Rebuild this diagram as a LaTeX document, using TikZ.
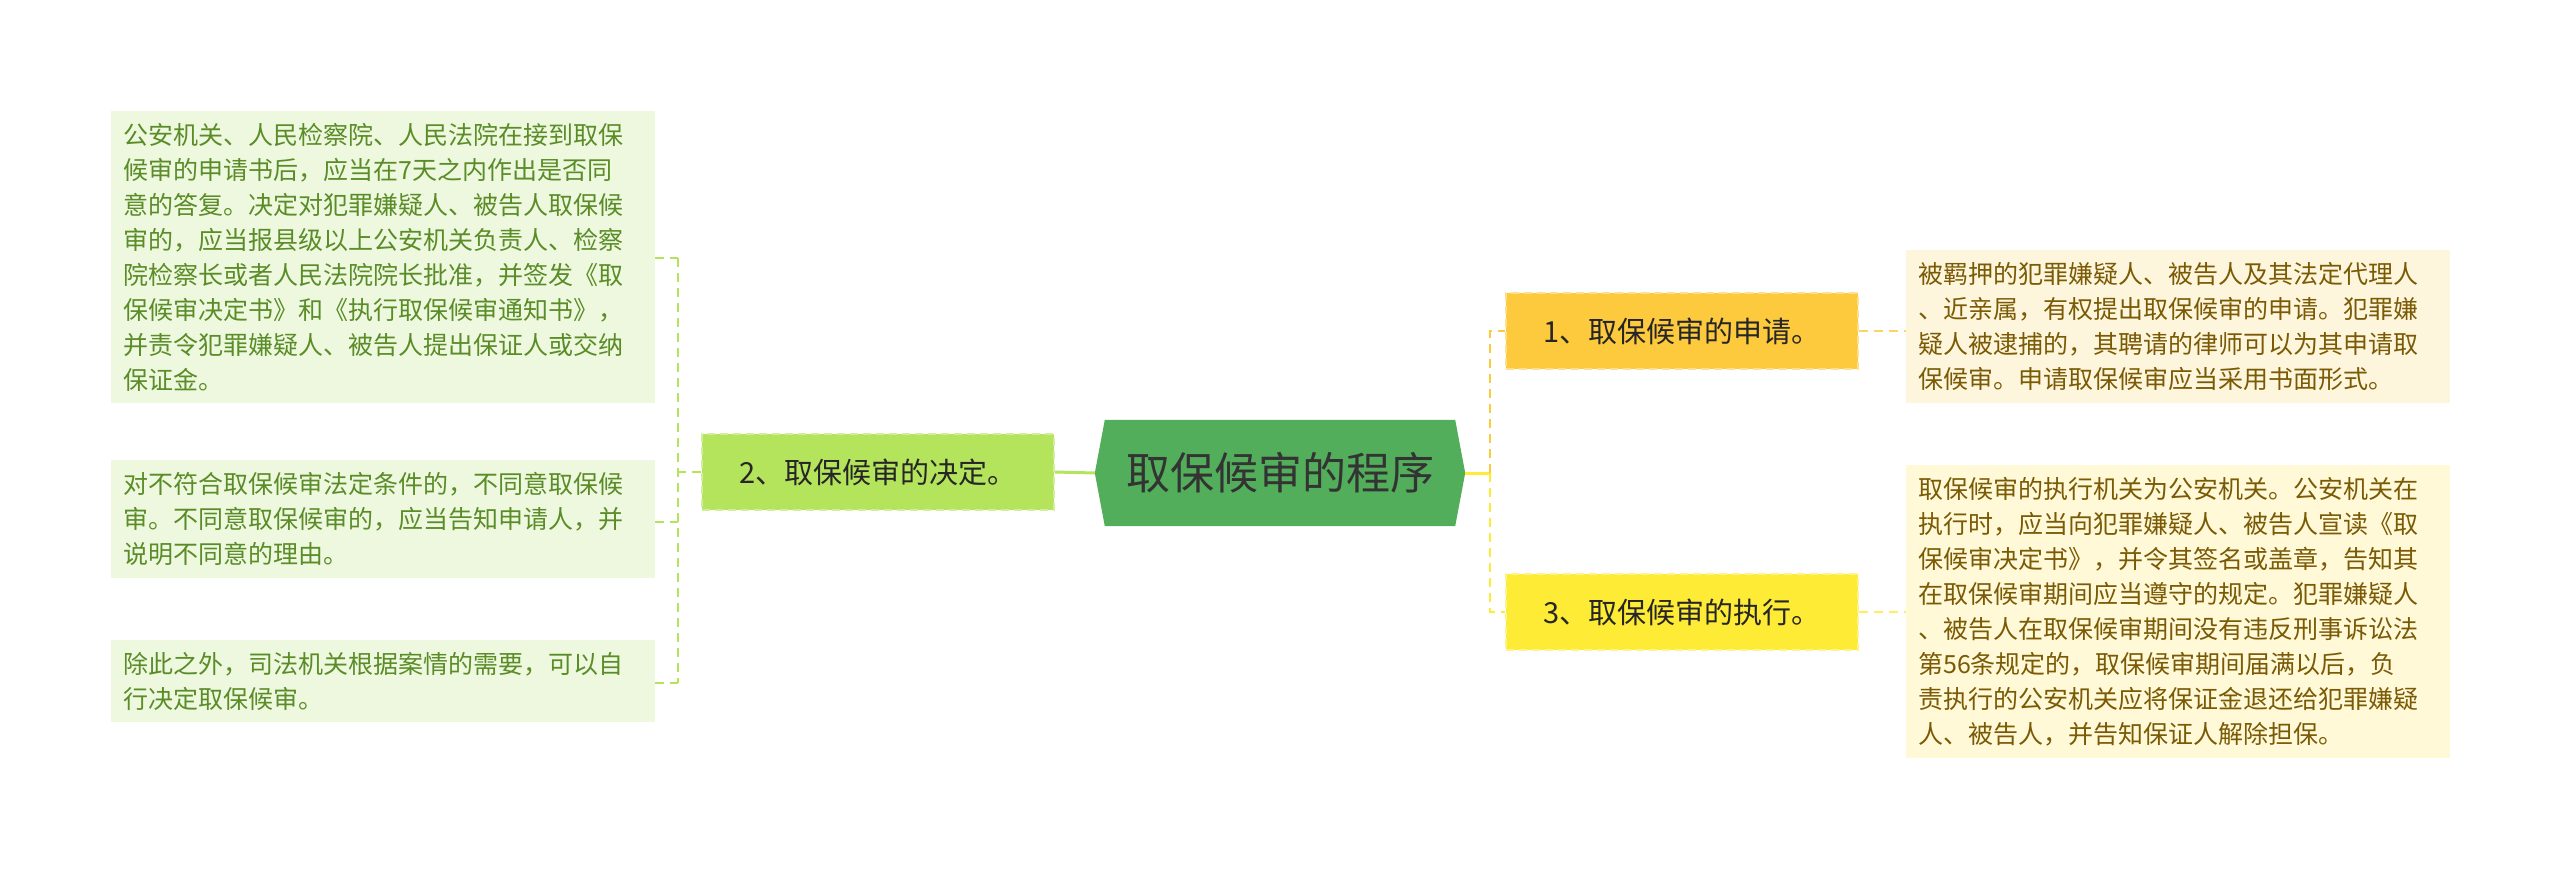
\documentclass[tikz,border=0pt]{standalone}
\usepackage{fontspec}
\setmainfont{Noto Sans CJK SC}
\usetikzlibrary{positioning}
\definecolor{rootfill}{HTML}{52AE5A}
\definecolor{applyfill}{HTML}{FDC93D}
\definecolor{decidefill}{HTML}{B4E35C}
\definecolor{runfill}{HTML}{FDEB36}
\definecolor{leaffillg}{HTML}{EEF8DF}
\definecolor{leaffilly}{HTML}{FEF6DC}
\definecolor{leaffillyy}{HTML}{FFF9D8}
\definecolor{leaftextg}{HTML}{5A8C27}
\definecolor{leaftexty}{HTML}{7A5A05}
\tikzset{topic/.style =
   {rectangle,
    draw,
    dash pattern=on 8pt off 5pt,
    line width=1.5pt,
    text=black!85,
    font=\fontsize{29}{34}\selectfont,
    minimum width=352pt,
    minimum height=76pt,
    inner sep=0pt}}
\tikzset{leaf/.style =
   {rectangle,
    align=left,
    text width=520pt,
    inner xsep=12pt,
    inner ysep=12pt,
    font=\fontsize{25}{35}\selectfont}}
\tikzset{link/.style = {draw, dash pattern=on 9pt off 6pt, line width=2pt}}

\begin{document}
\begin{tikzpicture}[x=1pt,y=-1pt]
    \useasboundingbox (0,0) rectangle (2560,869);

    % root
    \node [minimum width=330pt,
           minimum height=106pt] (root) at (1280,473) {};
    \fill [rootfill] ([xshift=-10pt]root.north west) -- ([xshift=10pt]root.north east)
          -- ([xshift=20pt]root.east) -- ([xshift=10pt]root.south east)
          -- ([xshift=-10pt]root.south west) -- ([xshift=-20pt]root.west) -- cycle;
    \node [font=\fontsize{44}{50}\selectfont, text=black!80] (roottext) at (root) {取保候审的程序};

    % branches
    \node [topic, fill=applyfill, draw=applyfill!60!white] (apply) at (1682,331) {1、取保候审的申请。};
    \node [topic, fill=runfill, draw=runfill!60!white] (run) at (1682,612) {3、取保候审的执行。};
    \node [topic, fill=decidefill, draw=decidefill!60!white] (decide) at (878,472) {2、取保候审的决定。};

    % leaves
    \node [leaf, fill=leaffilly, text=leaftexty, anchor=north west] (applytext) at (1906,250)
    {被羁押的犯罪嫌疑人、被告人及其法定代理人\\、近亲属，有权提出取保候审的申请。犯罪嫌\\疑人被逮捕的，其聘请的律师可以为其申请取\\保候审。申请取保候审应当采用书面形式。};
    \node [leaf, fill=leaffillyy, text=leaftexty, anchor=north west] (runtext) at (1906,465)
    {取保候审的执行机关为公安机关。公安机关在\\执行时，应当向犯罪嫌疑人、被告人宣读《取\\保候审决定书》，并令其签名或盖章，告知其\\在取保候审期间应当遵守的规定。犯罪嫌疑人\\、被告人在取保候审期间没有违反刑事诉讼法\\第56条规定的，取保候审期间届满以后，负\\责执行的公安机关应将保证金退还给犯罪嫌疑\\人、被告人，并告知保证人解除担保。};
    \node [leaf, fill=leaffillg, text=leaftextg, anchor=north west] (decidea) at (111,111)
    {公安机关、人民检察院、人民法院在接到取保\\候审的申请书后，应当在7天之内作出是否同\\意的答复。决定对犯罪嫌疑人、被告人取保候\\审的，应当报县级以上公安机关负责人、检察\\院检察长或者人民法院院长批准，并签发《取\\保候审决定书》和《执行取保候审通知书》，\\并责令犯罪嫌疑人、被告人提出保证人或交纳\\保证金。};
    \node [leaf, fill=leaffillg, text=leaftextg, anchor=north west] (decideb) at (111,460)
    {对不符合取保候审法定条件的，不同意取保候\\审。不同意取保候审的，应当告知申请人，并\\说明不同意的理由。};
    \node [leaf, fill=leaffillg, text=leaftextg, anchor=north west] (decidec) at (111,640)
    {除此之外，司法机关根据案情的需要，可以自\\行决定取保候审。};

    % connectors
    \draw [line width=3pt, decidefill] ([xshift=-20pt]root.west) -- (decide.east);
    \coordinate (fork) at (1490,473);
    \draw [line width=3pt, runfill] ([xshift=20pt]root.east) -- (fork);
    \draw [link, applyfill] (fork) |- (apply.west);
    \draw [link, runfill] (fork) |- (run.west);
    \draw [link, applyfill!80!white] (apply.east) -- (applytext.west |- apply.east);
    \draw [link, runfill!80!white] (run.east) -- (runtext.west |- run.east);
    \coordinate (join) at (678,472);
    \draw [link, line width=1.4pt, decidefill] (decide.west) -- (join);
    \draw [link, line width=1.4pt, decidefill] (678,258) -- (678,683);
    \draw [link, line width=1.4pt, decidefill] (decidea.east |- 0,258) -- (678,258);
    \draw [link, line width=1.4pt, decidefill] (decideb.east |- 0,522) -- (678,522);
    \draw [link, line width=1.4pt, decidefill] (decidec.east |- 0,683) -- (678,683);
\end{tikzpicture}
\end{document}
